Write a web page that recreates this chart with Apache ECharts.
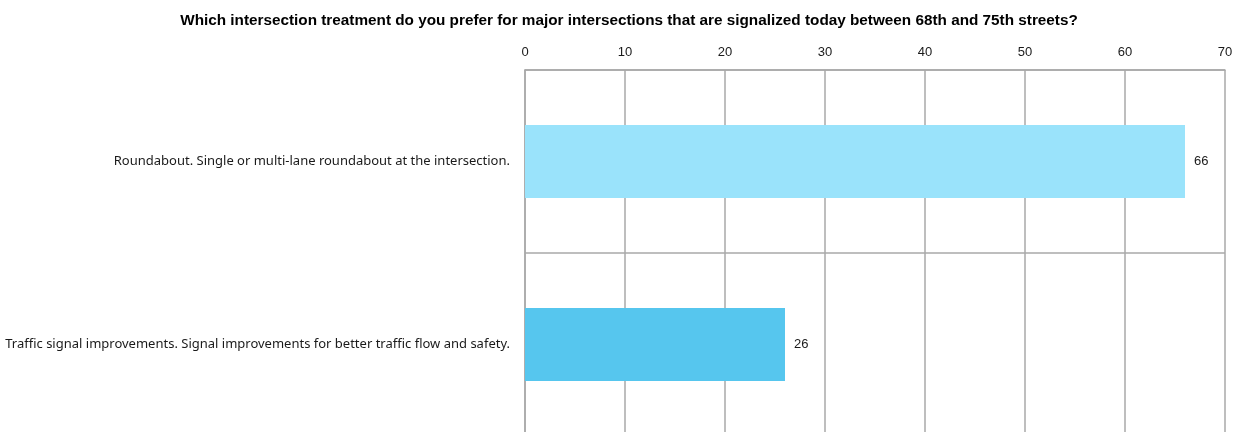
<!DOCTYPE html>
<html>
<head>
<meta charset="utf-8">
<script src="https://cdn.jsdelivr.net/npm/echarts@6/dist/echarts.min.js"></script>
<style>
  html, body { margin: 0; padding: 0; background: #ffffff; overflow: hidden; }
  /* the canvas is a little taller than the window so the plot continues past the lower edge */
  #chart { width: 1249px; height: 440px; }
</style>
</head>
<body>
<div id="chart"></div>
<script>
// Survey question and answer options
const titleText = 'Which intersection treatment do you prefer for major intersections that are signalized today between 68th and 75th streets?';
const categories = [
  'Roundabout. Single or multi-lane roundabout at the intersection.',
  'Traffic signal improvements. Signal improvements for better traffic flow and safety.'
];
const responses = [66, 26];
const barColors = ['#9ae3fb', '#56c6ee'];
const axisMax = 70;
const axisStep = 10;

const chart = echarts.init(document.getElementById('chart'));
const gridColor = '#a8a8a8';

chart.setOption({
  animation: false,
  backgroundColor: '#ffffff',
  title: {
    text: titleText,
    left: 624,
    top: 8,
    textAlign: 'center',
    textStyle: {
      fontFamily: 'Liberation Sans, Arial, sans-serif',
      fontSize: 15.3,
      fontWeight: 'bold',
      color: '#000000'
    }
  },
  grid: { left: 525, right: 24, top: 70, bottom: 4, containLabel: false },
  xAxis: {
    type: 'value',
    position: 'top',
    min: 0,
    max: axisMax,
    interval: axisStep,
    axisLine: { show: true, lineStyle: { color: gridColor, width: 1.5 } },
    axisTick: { show: false },
    axisLabel: {
      margin: 11,
      fontFamily: 'Liberation Sans, Arial, sans-serif',
      fontSize: 13,
      color: '#1a1a1a'
    },
    splitLine: { show: true, lineStyle: { color: gridColor, width: 1.5 } }
  },
  yAxis: {
    type: 'category',
    inverse: true,
    data: categories,
    axisLine: { show: true, lineStyle: { color: gridColor, width: 1.5 } },
    axisTick: { show: false },
    axisLabel: {
      margin: 15,
      fontFamily: 'Noto Sans, sans-serif',
      fontSize: 13,
      color: '#1a1a1a'
    },
    splitLine: { show: true, lineStyle: { color: gridColor, width: 1.5 } }
  },
  series: [{
    type: 'bar',
    data: responses.map((v, i) => ({ value: v, itemStyle: { color: barColors[i] } })),
    barCategoryGap: '60%',
    label: {
      show: true,
      position: 'right',
      distance: 9,
      fontFamily: 'Liberation Sans, Arial, sans-serif',
      fontSize: 13,
      color: '#1a1a1a'
    }
  }]
});
</script>
</body>
</html>
